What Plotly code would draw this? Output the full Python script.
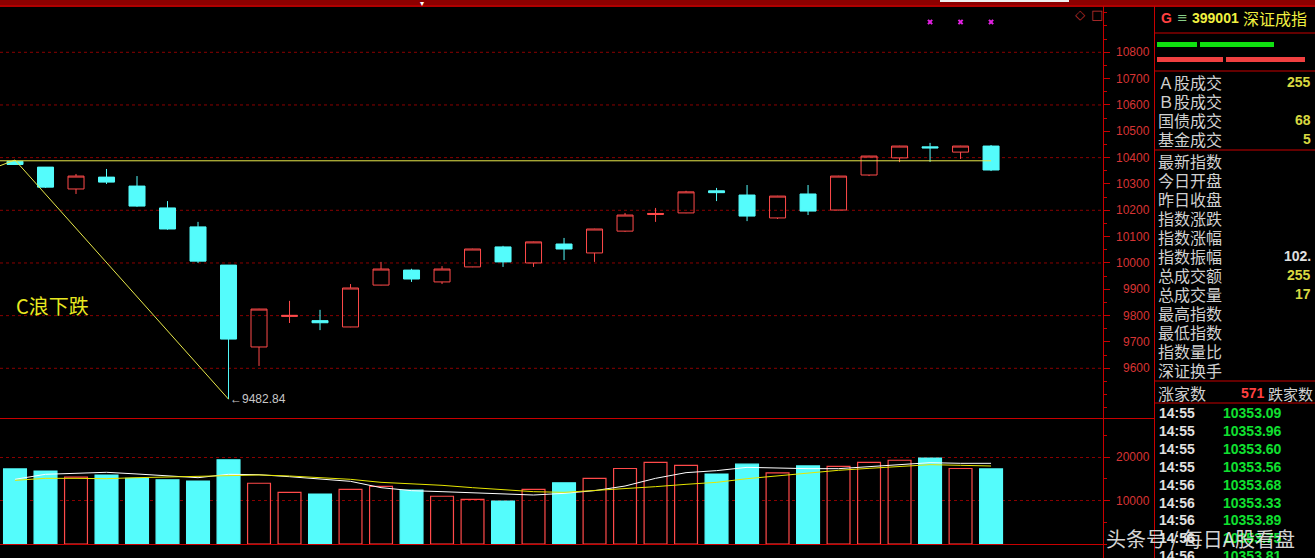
import plotly.graph_objects as go

# ---------------- data ----------------
idx = list(range(1, 34))
opens  = [10386, 10364, 10281, 10326, 10292, 10209, 10137, 9992, 9681, 9797, 9781, 9757, 9916,
          9973, 9928, 9985, 10061, 10000, 10072, 10038, 10121, 10184, 10190, 10274, 10258,
          10171, 10262, 10201, 10334, 10399, 10441, 10421, 10444]
closes = [10374, 10288, 10330, 10307, 10216, 10129, 10007, 9711, 9825, 9801, 9773, 9905, 9977,
          9939, 9977, 10053, 10004, 10080, 10053, 10129, 10182, 10188, 10270, 10267, 10178,
          10254, 10197, 10330, 10406, 10444, 10437, 10444, 10353]
highs  = [10391, 10364, 10338, 10357, 10330, 10235, 10156, 9992, 9826, 9856, 9822, 9920, 10004,
          9978, 9988, 10054, 10065, 10081, 10095, 10130, 10190, 10209, 10274, 10285, 10296,
          10255, 10296, 10331, 10407, 10445, 10456, 10445, 10448]
lows   = [10372, 10285, 10262, 10300, 10213, 10126, 10000, 9482.84, 9609, 9772, 9745, 9756, 9915,
          9928, 9920, 9984, 9985, 9985, 10011, 10004, 10118, 10156, 10189, 10235, 10159,
          10167, 10182, 10200, 10330, 10383, 10384, 10395, 10349]
volumes = [17300, 16800, 15400, 15900, 15100, 14800, 14500, 19400, 14000, 11900, 11500, 12600, 13300,
           12400, 11000, 10300, 9900, 12600, 14100, 15100, 17400, 18800, 18100, 16100, 18400,
           16400, 18000, 17900, 18800, 19300, 19800, 17400, 17300]
vol_ma_white = [14900, 16060, 16290, 16520, 16130, 15740, 15280, 16060, 15970, 15510, 14900, 14440, 12980,
                12290, 12060, 11830, 11670, 11290, 11670, 12290, 13360, 15130, 16440, 16900, 17660,
                17430, 17360, 17360, 17820, 18130, 18740, 18590, 18590]
vol_ma_yellow = [14670, 15130, 15130, 15050, 15280, 15440, 15440, 15740, 15900, 15670, 15280, 14900, 14210,
                 13900, 13520, 12980, 12440, 12060, 11900, 12290, 12750, 13210, 13750, 14210, 15050,
                 15670, 16440, 16980, 17430, 17900, 18280, 18130, 17970]

support_x = [0.5, 33]
support_y = [10388, 10388]
wave_x = [0.5, 1, 8]
wave_y = [10369, 10391, 9482.84]
marker_x = [31, 32, 33]
marker_y = [10915, 10915, 10915]

price_ticks = [9600, 9700, 9800, 9900, 10000, 10100, 10200, 10300, 10400, 10500, 10600, 10700, 10800]
price_grid = [9600, 9800, 10000, 10200, 10400, 10600, 10800]
vol_ticks = [10000, 20000]

info_top_labels = ["Ａ股成交", "Ｂ股成交", "国债成交", "基金成交"]
info_top_values = ["255", "", "68", "5"]
info_mid_labels = ["最新指数", "今日开盘", "昨日收盘", "指数涨跌", "指数涨幅", "指数振幅",
                   "总成交额", "总成交量", "最高指数", "最低指数", "指数量比", "深证换手"]
info_mid_values = ["", "", "", "", "", "102.", "255", "17", "", "", "", ""]
info_mid_colors = ["#d8d8d8"] * 5 + ["#e0e0e0", "#d8d840", "#d8d840"] + ["#d8d8d8"] * 4
tick_times = ["14:55", "14:55", "14:55", "14:55", "14:56", "14:56", "14:56", "14:56", "14:56"]
tick_prices = ["10353.09", "10353.96", "10353.60", "10353.56", "10353.68", "10353.33",
               "10353.89", "10353.75", "10353.81"]

# ---------------- layout helpers ----------------
W, H = 1315, 558
def fy(px):
    return 1 - px / H
def fx(px):
    return px / W

CYAN = "#54fcfc"
RED = "#ff4a4a"
AXRED = "#c80000"
LBLRED = "#d83434"
YEL = "#e8e84a"
CN = "Noto Sans CJK SC"
NUM = "Liberation Sans, Arial"

up = [c >= o for o, c in zip(opens, closes)]

fig = go.Figure()

fig.add_trace(go.Candlestick(
    x=idx, open=opens, high=highs, low=lows, close=closes,
    increasing=dict(line=dict(color=RED, width=1), fillcolor="rgba(0,0,0,0)"),
    decreasing=dict(line=dict(color=CYAN, width=1), fillcolor=CYAN),
    whiskerwidth=0, hoverinfo="skip", xaxis="x", yaxis="y"))

fig.add_trace(go.Scatter(x=support_x, y=support_y, mode="lines",
                         line=dict(color=YEL, width=1), hoverinfo="skip", xaxis="x", yaxis="y"))
fig.add_trace(go.Scatter(x=wave_x, y=wave_y, mode="lines",
                         line=dict(color=YEL, width=1), hoverinfo="skip", xaxis="x", yaxis="y"))
fig.add_trace(go.Scatter(x=marker_x, y=marker_y, mode="markers",
                         marker=dict(symbol="x", size=5, color="#e020e0"),
                         hoverinfo="skip", xaxis="x", yaxis="y"))

fig.add_trace(go.Bar(
    x=idx, y=volumes, width=0.75,
    marker=dict(color=["rgba(0,0,0,0)" if u else CYAN for u in up],
                line=dict(color=[RED if u else CYAN for u in up], width=1.2)),
    hoverinfo="skip", xaxis="x2", yaxis="y2"))
fig.add_trace(go.Scatter(x=idx, y=vol_ma_white, mode="lines",
                         line=dict(color="#ffffff", width=1), hoverinfo="skip", xaxis="x2", yaxis="y2"))
fig.add_trace(go.Scatter(x=idx, y=vol_ma_yellow, mode="lines",
                         line=dict(color="#e6e600", width=1), hoverinfo="skip", xaxis="x2", yaxis="y2"))

xr = [0.508, 36.67]
fig.update_layout(
    width=W, height=H, margin=dict(l=0, r=0, t=0, b=0),
    paper_bgcolor="black", plot_bgcolor="black", showlegend=False,
    boxgap=0.25, bargap=0.25,
    xaxis=dict(domain=[0, fx(1103)], range=xr, visible=False, rangeslider=dict(visible=False),
               anchor="y"),
    xaxis2=dict(domain=[0, fx(1103)], range=xr, visible=False, anchor="y2", matches="x"),
    yaxis=dict(domain=[fy(418), fy(7)], range=[9411.3, 10972], side="right", anchor="x",
               tickmode="array", tickvals=price_ticks, showticklabels=False,
               ticks="outside", ticklen=6, tickcolor=AXRED, showgrid=False, zeroline=False,
               showline=False,
               minor=dict(ticks="outside", ticklen=3, tickcolor=AXRED, dtick=50, tick0=0, showgrid=False)),
    yaxis2=dict(domain=[fy(544), fy(420)], range=[0, 28571], side="right", anchor="x2",
                tickmode="array", tickvals=vol_ticks, showticklabels=False,
                ticks="outside", ticklen=6, tickcolor=AXRED,
                showgrid=True, gridcolor="#8a0000", griddash="dot", gridwidth=1, zeroline=False,
                showline=False,
                minor=dict(ticks="outside", ticklen=3, tickcolor=AXRED, dtick=5000, tick0=0, showgrid=False)),
)

shapes = []
for g in price_grid:
    shapes.append(dict(type="line", xref="x domain", yref="y", x0=0, x1=1, y0=g, y1=g,
                       line=dict(color="#8a0000", width=1, dash="dot"), layer="below"))

def pline(x0, y0, x1, y1, color=AXRED, width=1):
    shapes.append(dict(type="line", xref="paper", yref="paper", x0=fx(x0), x1=fx(x1),
                       y0=fy(y0), y1=fy(y1), line=dict(color=color, width=width)))

def prect(x0, y0, x1, y1, color):
    shapes.append(dict(type="rect", xref="paper", yref="paper", x0=fx(x0), x1=fx(x1),
                       y0=fy(y1), y1=fy(y0), fillcolor=color, line=dict(width=0)))

prect(0, 0, W, 6, "#8c0000")
prect(0, 5, W, 7, "#b00000")
prect(940, 0, 1069, 2, "#f0f0f0")
pline(1103.5, 6, 1103.5, H)
pline(1154.5, 6, 1154.5, H)
pline(0, 418.5, 1154, 418.5)
pline(0, 544.5, 1103, 544.5)
for yy in [33, 71, 150, 381, 403]:
    pline(1154, yy, W, yy)
prect(1157, 42, 1197, 47, "#10e010")
prect(1200, 42, 1274, 47, "#10e010")
prect(1157, 57, 1223, 62, "#f04040")
prect(1226, 57, 1305, 62, "#f04040")

ann = []
def txt(x, y, s, size, color, family=NUM, anchor="left", bold=False):
    ann.append(dict(x=fx(x), y=fy(y), xref="paper", yref="paper",
                    text=f"<b>{s}</b>" if bold else s, showarrow=False,
                    xanchor=anchor, yanchor="middle",
                    font=dict(size=size, color=color, family=family)))

# price axis labels
for t in price_ticks:
    ann.append(dict(x=fx(1152), xref="paper", y=t, yref="y", text=str(t), showarrow=False,
                    xanchor="right", yanchor="middle", font=dict(size=12, color=LBLRED, family=NUM)))
for t in vol_ticks:
    ann.append(dict(x=fx(1152), xref="paper", y=t, yref="y2", text=str(t), showarrow=False,
                    xanchor="right", yanchor="middle", font=dict(size=12, color=LBLRED, family=NUM)))

# low label
ann.append(dict(x=8, xref="x", y=lows[7], yref="y", text="←" + f"{lows[7]:.2f}", showarrow=False,
                xanchor="left", yanchor="middle", xshift=-1,
                font=dict(size=12, color="#c8c8c8", family=NUM)))

# wave label
txt(14, 305, "C浪下跌", 20, "#e8e820", family=CN)

# top icons
txt(1080, 15, "◇", 13, "#c03030", family="DejaVu Sans", anchor="center")
txt(1097, 15, "□", 13, "#c03030", family="DejaVu Sans", anchor="center")
txt(422, 4, "▾", 8, "#ffffff", family="DejaVu Sans", anchor="center")

# info header
txt(1159, 18, "G", 14, "#ff4040", bold=True)
txt(1175, 18, "≡", 13, "#88d088", family="DejaVu Sans")
txt(1190, 18, "399001", 14, "#f0f040", bold=True)
txt(1241, 18, "深证成指", 16, "#f0f040", family=CN)

for i, (lab, val) in enumerate(zip(info_top_labels, info_top_values)):
    yy = 82 + 19 * i
    txt(1156, yy, lab, 16, "#d0d0d0", family=CN)
    if val:
        txt(1313, yy, val, 14, "#d8d840", bold=True, anchor="right")
for i, (lab, val, col) in enumerate(zip(info_mid_labels, info_mid_values, info_mid_colors)):
    yy = 161 + 19 * i
    txt(1156, yy, lab, 16, "#d0d0d0", family=CN)
    if val:
        txt(1313, yy, val, 14, col, bold=True, anchor="right")

txt(1156, 393, "涨家数", 16, "#d0d0d0", family=CN)
txt(1239, 393, "571", 14, "#ff4040", bold=True)
txt(1266, 393, "跌家数", 15, "#d0d0d0", family=CN)

for i, (t, p) in enumerate(zip(tick_times, tick_prices)):
    yy = 413 + 17.9 * i
    txt(1157, yy, t, 14, "#e0e0e0", bold=True)
    txt(1221, yy, p, 14, "#10e030", bold=True)

# watermark
ann.append(dict(x=fx(1200), y=fy(538), xref="paper", yref="paper", text="头条号 / 每日A股看盘",
                showarrow=False, xanchor="center", yanchor="middle",
                bgcolor="rgba(0,0,0,0)",
                font=dict(size=20, color="rgba(235,235,235,0.92)", family=CN)))

fig.update_layout(shapes=shapes, annotations=ann)
fig.write_html("out.html",
               config={"displayModeBar": False, "staticPlot": True},
               post_script="document.body.style.margin='0';document.body.style.overflow='hidden';")
